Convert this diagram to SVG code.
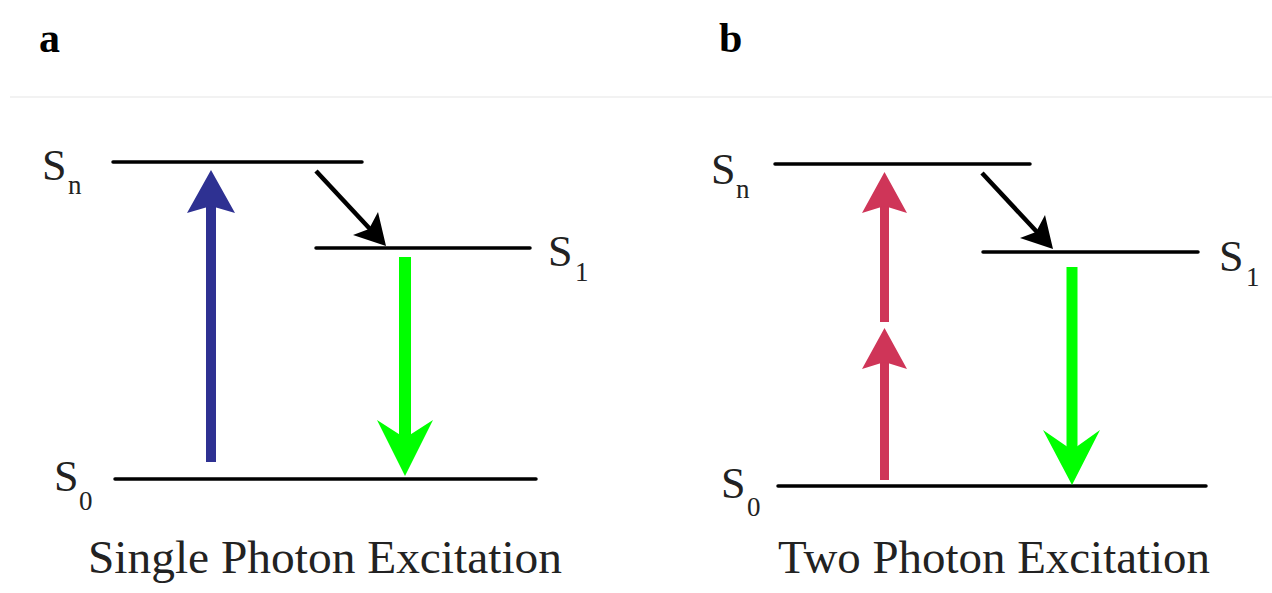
<svg xmlns="http://www.w3.org/2000/svg" width="1272" height="593" viewBox="0 0 1272 593">
<style>
.lvl{stroke:#000;stroke-width:3.5;stroke-linecap:round}
.lbl{font-family:"Liberation Serif","Times New Roman",serif;fill:#222;font-size:44px}
.sub{font-family:"Liberation Serif","Times New Roman",serif;fill:#222;font-size:27px}
.cap{font-family:"Liberation Serif","Times New Roman",serif;fill:#222;font-size:47px}
.tag{font-family:"Liberation Serif","Times New Roman",serif;fill:#000;font-size:42px;font-weight:bold}
.blue{fill:#2e3192;stroke:none}
.red{fill:#cf3558;stroke:none}
.green{fill:#00ff00;stroke:none}
.blk{fill:#000;stroke:none}
</style>
<rect width="1272" height="593" fill="#fff"/>
<line x1="10" y1="97" x2="1272" y2="97" stroke="#f2f2f2" stroke-width="2"/>
<text class="tag" x="39" y="52">a</text>
<text class="tag" x="719" y="52">b</text>

<g id="panel-a">
<g id="a-Sn"><line class="lvl" x1="113" y1="162" x2="362" y2="162"/><text class="lbl" x="42" y="180">S</text><text class="sub" x="68" y="194">n</text></g>
<g id="a-S1"><line class="lvl" x1="316" y1="248" x2="530" y2="248"/><text class="lbl" x="548" y="266">S</text><text class="sub" x="575" y="281">1</text></g>
<g id="a-S0"><line class="lvl" x1="115" y1="479" x2="536" y2="479"/><text class="lbl" x="54" y="491">S</text><text class="sub" x="79" y="510">0</text></g>
<text id="a-caption" class="cap" x="88" y="573" textLength="474" lengthAdjust="spacingAndGlyphs">Single Photon Excitation</text>
</g>

<g id="panel-b">
<g id="b-Sn"><line class="lvl" x1="775" y1="164" x2="1030" y2="164"/><text class="lbl" x="711" y="184">S</text><text class="sub" x="736" y="198">n</text></g>
<g id="b-S1"><line class="lvl" x1="983" y1="252" x2="1198" y2="252"/><text class="lbl" x="1219" y="271">S</text><text class="sub" x="1246" y="286">1</text></g>
<g id="b-S0"><line class="lvl" x1="778" y1="486" x2="1206" y2="486"/><text class="lbl" x="721" y="498">S</text><text class="sub" x="747" y="516">0</text></g>
<text id="b-caption" class="cap" x="778" y="573" textLength="432" lengthAdjust="spacingAndGlyphs">Two Photon Excitation</text>
</g>

<g id="connectors">
<!-- a: blue excitation -->
<rect class="blue" x="206" y="200" width="10" height="262"/>
<path class="blue" d="M211,170 L235,213 L211,206 L187,213 Z"/>
<!-- a: relaxation -->
<line x1="316" y1="171" x2="370" y2="229" stroke="#000" stroke-width="4.5"/>
<path class="blk" d="M386,246 L353,235 L369,229 L378,212 Z"/>
<!-- a: green emission -->
<rect class="green" x="399" y="257" width="12" height="183"/>
<path class="green" d="M405,476 L377,420 L405,438 L433,420 Z"/>

<!-- b: red two-photon excitation -->
<rect class="red" x="880" y="200" width="9" height="122"/>
<path class="red" d="M884.5,172 L907,213 L884.5,206 L862,213 Z"/>
<rect class="red" x="880" y="356" width="9" height="124"/>
<path class="red" d="M884.5,328 L907,369 L884.5,362 L862,369 Z"/>
<!-- b: relaxation -->
<line x1="982" y1="173" x2="1037" y2="232" stroke="#000" stroke-width="4.5"/>
<path class="blk" d="M1053,249 L1020,238 L1036,232 L1045,215 Z"/>
<!-- b: green emission -->
<rect class="green" x="1066.5" y="267" width="11" height="185"/>
<path class="green" d="M1072,485 L1043,430 L1072,450 L1100,430 Z"/>
</g>
</svg>
